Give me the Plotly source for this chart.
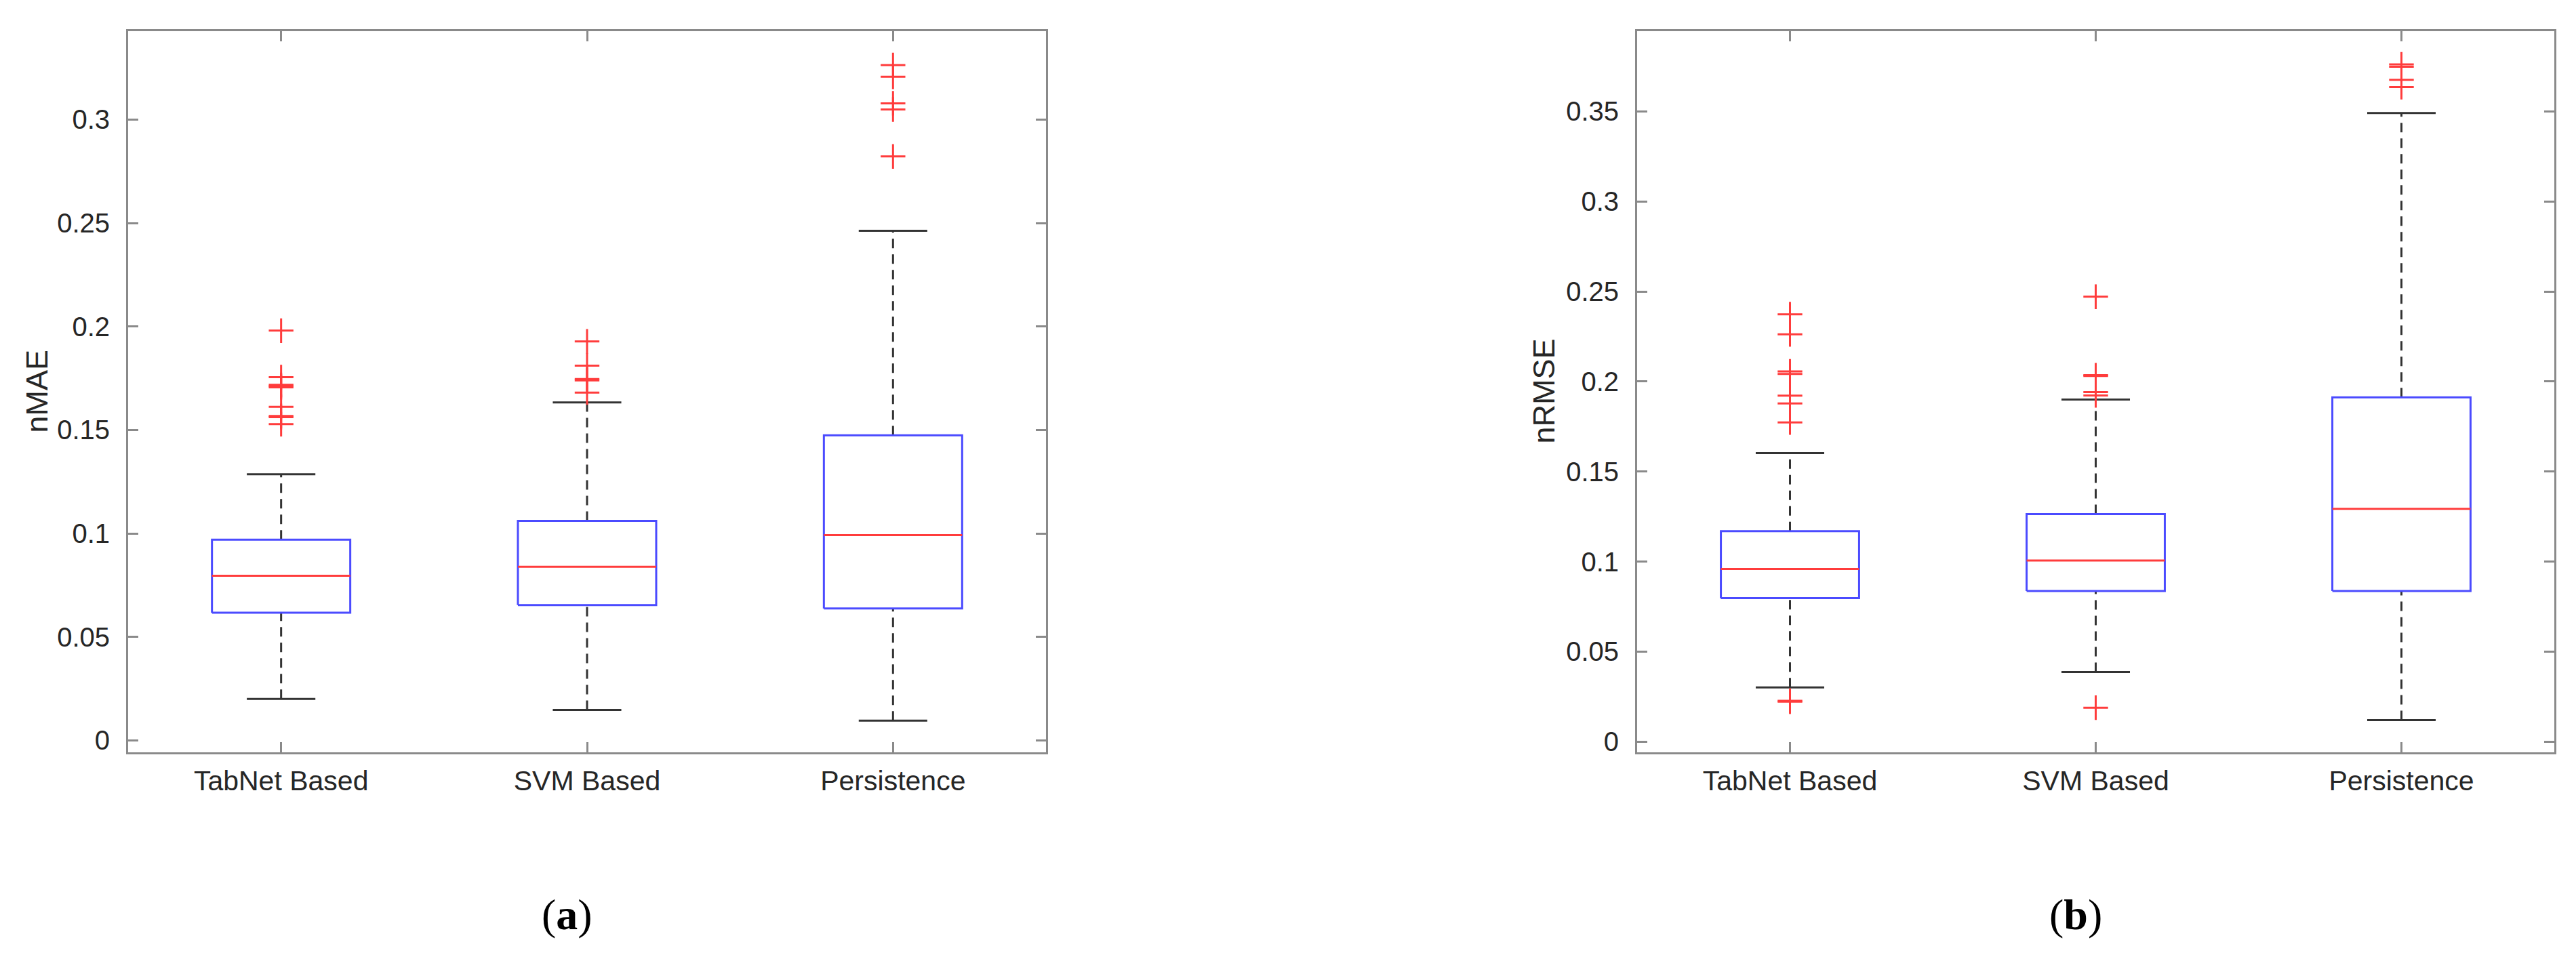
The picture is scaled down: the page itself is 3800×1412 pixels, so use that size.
import plotly.graph_objects as go

categories = ["TabNet Based", "SVM Based", "Persistence"]

# Panel (a): nMAE box statistics
mae_lower = [0.0200, 0.0147, 0.0095]
mae_q1 = [0.0617, 0.0654, 0.0637]
mae_median = [0.0795, 0.0839, 0.0992]
mae_q3 = [0.0970, 0.1061, 0.1474]
mae_upper = [0.1286, 0.1633, 0.2463]
mae_outliers = [
    [0.1980, 0.1755, 0.1718, 0.1712, 0.1706, 0.1612, 0.1568, 0.1562, 0.1528],
    [0.1928, 0.1811, 0.1746, 0.1740, 0.1681],
    [0.3264, 0.3207, 0.3079, 0.3049, 0.2822],
]

# Panel (b): nRMSE box statistics
rmse_lower = [0.0301, 0.0387, 0.0120]
rmse_q1 = [0.0797, 0.0837, 0.0837]
rmse_median = [0.0959, 0.1006, 0.1293]
rmse_q3 = [0.1169, 0.1264, 0.1912]
rmse_upper = [0.1603, 0.1900, 0.3491]
rmse_outliers = [
    [0.2373, 0.2262, 0.2056, 0.2042, 0.1922, 0.1878, 0.1773, 0.0227, 0.0222],
    [0.2471, 0.2035, 0.2031, 0.1941, 0.1923, 0.0189],
    [0.3761, 0.3748, 0.3675, 0.3635],
]

y_ticks_a = [0, 0.05, 0.1, 0.15, 0.2, 0.25, 0.3]
y_ticks_b = [0, 0.05, 0.1, 0.15, 0.2, 0.25, 0.3, 0.35]

BOX_HALF = 0.226
CAP_HALF = 0.112
BLUE = "#4b4bff"
RED = "#ff3c3c"
BLACK = "#333333"
AXIS = "#8a8a8a"
FONT = "Liberation Sans, Arial, sans-serif"

fig = go.Figure()


def add_panel(xa, ya, lower, q1, med, q3, upper, outliers):
    for i in range(len(categories)):
        c = i + 1
        # whiskers (dashed)
        fig.add_trace(go.Scatter(x=[c, c], y=[q3[i], upper[i]], mode="lines",
                                 line=dict(color=BLACK, width=3, dash="14px,9px"),
                                 xaxis=xa, yaxis=ya, showlegend=False, hoverinfo="skip"))
        fig.add_trace(go.Scatter(x=[c, c], y=[lower[i], q1[i]], mode="lines",
                                 line=dict(color=BLACK, width=3, dash="14px,9px"),
                                 xaxis=xa, yaxis=ya, showlegend=False, hoverinfo="skip"))
        # caps
        for v in (upper[i], lower[i]):
            fig.add_trace(go.Scatter(x=[c - CAP_HALF, c + CAP_HALF], y=[v, v], mode="lines",
                                     line=dict(color=BLACK, width=3),
                                     xaxis=xa, yaxis=ya, showlegend=False, hoverinfo="skip"))
        # box
        fig.add_trace(go.Scatter(
            x=[c - BOX_HALF, c + BOX_HALF, c + BOX_HALF, c - BOX_HALF, c - BOX_HALF],
            y=[q1[i], q1[i], q3[i], q3[i], q1[i]], mode="lines",
            line=dict(color=BLUE, width=3),
            xaxis=xa, yaxis=ya, showlegend=False, hoverinfo="skip"))
        # median
        fig.add_trace(go.Scatter(x=[c - BOX_HALF, c + BOX_HALF], y=[med[i], med[i]], mode="lines",
                                 line=dict(color=RED, width=3),
                                 xaxis=xa, yaxis=ya, showlegend=False, hoverinfo="skip"))
        # outliers
        fig.add_trace(go.Scatter(x=[c] * len(outliers[i]), y=outliers[i], mode="markers",
                                 marker=dict(symbol="cross-thin", size=26,
                                             line=dict(color=RED, width=3)),
                                 xaxis=xa, yaxis=ya, showlegend=False, hoverinfo="skip"))


add_panel("x", "y", mae_lower, mae_q1, mae_median, mae_q3, mae_upper, mae_outliers)
add_panel("x2", "y2", rmse_lower, rmse_q1, rmse_median, rmse_q3, rmse_upper, rmse_outliers)

W, H = 3800, 1412
y_dom = [(H - 1107) / H, (H - 38) / H]

xcommon = dict(range=[0.5, 3.5], tickvals=[1, 2, 3], ticktext=categories,
               ticks="inside", ticklen=15, tickwidth=3, tickcolor=AXIS,
               showline=True, linecolor=AXIS, linewidth=3, mirror="ticks",
               showgrid=False, zeroline=False, ticklabelstandoff=4,
               tickfont=dict(family=FONT, size=41, color="#262626"))
ycommon = dict(ticks="inside", ticklen=15, tickwidth=3, tickcolor=AXIS,
               showline=True, linecolor=AXIS, linewidth=3, mirror="ticks",
               showgrid=False, zeroline=False, ticklabelstandoff=16,
               tickfont=dict(family=FONT, size=40, color="#262626"))

fig.update_layout(
    width=W, height=H,
    margin=dict(l=0, r=0, t=0, b=0),
    paper_bgcolor="white", plot_bgcolor="white",
    xaxis=dict(domain=[181 / W, 1535 / W], anchor="y", **xcommon),
    xaxis2=dict(domain=[2407 / W, 3760 / W], anchor="y2", **xcommon),
    yaxis=dict(domain=y_dom, anchor="x", range=[-0.0059, 0.3428],
               tickvals=y_ticks_a, ticktext=[f"{v:g}" for v in y_ticks_a], **ycommon),
    yaxis2=dict(domain=y_dom, anchor="x2", range=[-0.0060, 0.3946],
                tickvals=y_ticks_b, ticktext=[f"{v:g}" for v in y_ticks_b], **ycommon),
    annotations=[
        dict(text="nMAE", textangle=-90, x=47 / W, y=(H - 572) / H, xref="paper", yref="paper",
             xanchor="center", yanchor="middle",
             showarrow=False, font=dict(family=FONT, size=45, color="#262626")),
        dict(text="nRMSE", textangle=-90, x=2270 / W, y=(H - 572) / H, xref="paper", yref="paper",
             xanchor="center", yanchor="middle",
             showarrow=False, font=dict(family=FONT, size=45, color="#262626")),
        dict(text="(<b>a</b>)", x=828 / W, y=(H - 1347) / H, xref="paper", yref="paper",
             xanchor="center", yanchor="middle",
             showarrow=False, font=dict(family="Liberation Serif, Times New Roman, serif", size=64, color="black")),
        dict(text="(<b>b</b>)", x=3054 / W, y=(H - 1347) / H, xref="paper", yref="paper",
             xanchor="center", yanchor="middle",
             showarrow=False, font=dict(family="Liberation Serif, Times New Roman, serif", size=64, color="black")),
    ],
)

fig.write_html("out.html")
